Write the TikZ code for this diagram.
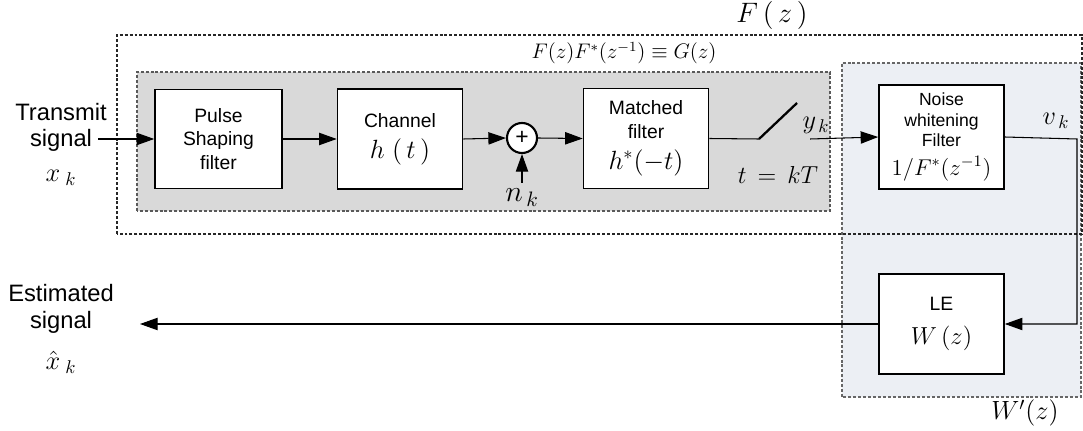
\RequirePackage{fix-cm}
\documentclass[tikz,border=0pt]{standalone}
\usepackage{fontspec}
\setmainfont{Liberation Sans}
\usetikzlibrary{arrows.meta}
\definecolor{grayzone}{RGB}{217,217,217}
\definecolor{bluezone}{RGB}{236,239,244}
\newcommand{\msz}[2]{{\fontsize{#1}{#1}\selectfont$#2$}}
\tikzset{
  blk/.style={draw,fill=white,line width=0.9pt,minimum width=2.5cm,minimum height=2cm,
    align=center,inner sep=1pt,font=\fontsize{11}{13.5}\selectfont},
  sig/.style={-{Triangle[length=10pt,width=7pt]},line width=0.6pt},
  dbox/.style={dash pattern=on 1.7pt off 1.1pt,line width=0.6pt},
  txt/.style={font=\fontsize{13.5}{16}\selectfont},
}
\begin{document}
\begin{tikzpicture}
\useasboundingbox (0,0) rectangle (21.66,8.6);
% zones
\draw[dbox,draw=black!60,fill=bluezone] (16.84,0.66) rectangle (21.62,7.34);
\draw[dbox,draw=black!65,fill=grayzone] (2.74,4.38) rectangle (16.6,7.16);
\draw[dbox,draw=black!85] (2.34,3.92) rectangle (21.64,7.90);
\node (Fz) at (15.44,8.3) {\msz{16}{F\,(\,z\,)}};
\node (Gz) at (12.48,7.54) {\msz{12}{F(z)F^*(z^{-1})\equiv G(z)}};
\node (Wz) at (20.5,0.34) {\msz{15}{W'(z)}};

% blocks
\node[blk,minimum width=2.54cm,minimum height=1.98cm] (pulse) at (4.37,5.82) {Pulse\\Shaping\\filter};
\node[blk] (chan) at (8.0,5.82) {Channel\\[4pt]\msz{15}{h\;(\,t\,)}};
\node[circle,draw,line width=1.2pt,fill=white,minimum size=0.6cm,inner sep=0pt] (sum) at (10.44,5.84) {\fontsize{13}{13}\selectfont +};
\node[blk] (mf) at (12.92,5.83) {Matched\\filter\\[4pt]\msz{15}{h^*(-t)}};
\node[blk,minimum height=2.08cm,font=\fontsize{10}{11.5}\selectfont] (nwf) at (18.83,5.86)
  {Noise\\whitening\\Filter\\[5pt]\msz{13}{1\big/F^*(z^{-1})}};
\node[blk] (le) at (18.83,2.12) {LE\\[6pt]\msz{14}{W\,(z)}};

% input and output
\node[txt] (txsig) at (1.22,5.8) {signal};
\node[txt] (txlab) at (1.22,6.36) {Transmit};
\node (xk) at (1.22,5.04) {\msz{15}{x_{\;k}}};
\node[txt] (essig) at (1.22,2.16) {signal};
\node[txt] (eslab) at (1.22,2.74) {Estimated};
\node (xhk) at (1.22,1.36) {\msz{15}{\hat{x}_{\;k}}};
\coordinate (outtip) at (2.8,2.12);

% switch
\coordinate (sw1) at (15.18,5.82);
\coordinate (sw2) at (15.94,6.54);
\coordinate (sw3) at (16.2,5.82);
\coordinate (vk) at (21.54,5.82);
\node (tkt) at (15.56,5.1) {\msz{14}{t\,=\,kT}};
\node (yk) at (16.32,6.1) {\msz{15}{y_{\,k}}};
\node (vkl) at (21.12,6.18) {\msz{15}{v_{\,k}}};
\node (nk) at (10.44,4.65) {\msz{17}{n_{\,k}}};

% connections
\draw[sig] (txsig.east |- pulse.west) -- (pulse.west);
\draw[sig] (pulse.east) -- (chan.west);
\draw[sig] (chan.east) -- (sum.west);
\draw[sig] (nk.north) -- (sum.south);
\draw[sig] (sum.east) -- (mf.west);
\draw[line width=0.6pt] (mf.east) -- (sw1);
\draw[line width=1.3pt] (sw1) -- (sw2);
\draw[sig] (sw3) -- (nwf.west);
\draw[sig] (nwf.east) -- (vk) |- (le.east);
\draw[sig] (le.west) -- (outtip);
\end{tikzpicture}
\end{document}
